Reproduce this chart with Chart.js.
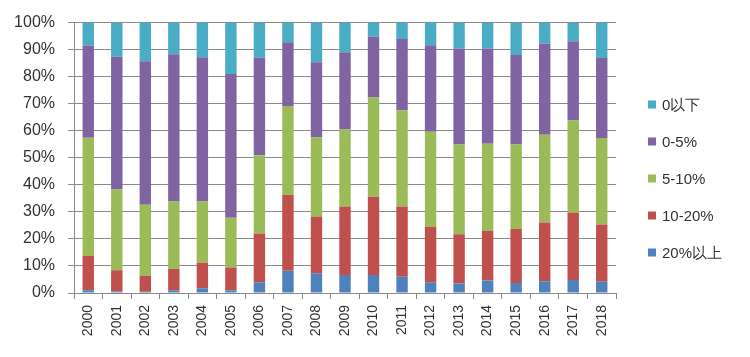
<!DOCTYPE html>
<html>
<head>
<meta charset="utf-8">
<script src="https://cdn.jsdelivr.net/npm/chart.js@4/dist/chart.umd.min.js"></script>
<style>
  html, body { margin: 0; padding: 0; background: #fff; }
  #wrap { width: 750px; height: 357px; }
</style>
</head>
<body>
<div id="wrap"><canvas id="c" width="750" height="357"></canvas></div>
<script>
const years = ["2000","2001","2002","2003","2004","2005","2006","2007","2008","2009","2010","2011","2012","2013","2014","2015","2016","2017","2018"];
const above20 = [1.0, 0.6, 0.5, 1.0, 1.8, 1.0, 4.0, 8.2, 7.3, 6.7, 6.7, 6.0, 4.0, 3.5, 4.6, 3.7, 4.3, 4.8, 4.2];
const r10to20 = [12.8, 7.8, 5.9, 8.0, 9.4, 8.4, 18.0, 28.0, 21.0, 25.3, 28.9, 26.0, 20.4, 18.2, 18.3, 20.0, 21.8, 25.0, 21.1];
const r5to10 = [43.6, 29.9, 26.2, 24.8, 22.6, 18.4, 28.9, 33.0, 29.3, 28.5, 36.7, 35.6, 35.2, 33.2, 32.3, 31.2, 32.4, 34.0, 32.0];
const r0to5 = [34.1, 49.1, 53.1, 54.5, 53.4, 53.2, 36.1, 23.5, 27.7, 28.5, 22.5, 26.3, 32.0, 35.4, 35.1, 33.1, 33.8, 29.3, 29.6];
const below0 = [8.5, 12.6, 14.3, 11.7, 12.8, 19.0, 13.0, 7.3, 14.7, 11.0, 5.2, 6.1, 8.4, 9.7, 9.7, 12.0, 7.7, 6.9, 13.1];
const seriesNames = ["20%以上", "10-20%", "5-10%", "0-5%", "0以下"];
const seriesColors = ["#4F81BD", "#C0504D", "#9BBB59", "#8064A2", "#4BACC6"];
const yTicks = [0,10,20,30,40,50,60,70,80,90,100];

const FONT = "'Liberation Sans', Arial, sans-serif";
const GRID = "#8a8a8a";
const TEXT = "#333333";

const seriesData = [above20, r10to20, r5to10, r0to5, below0];

const legendPlugin = {
  id: 'sideLegend',
  afterDraw(chart) {
    const ctx = chart.ctx;
    const area = chart.chartArea;
    const cy = chart.height / 2;
    const spacing = 37;
    const n = seriesNames.length;
    ctx.save();
    ctx.font = "15px " + FONT;
    ctx.textBaseline = 'middle';
    ctx.textAlign = 'left';
    for (let k = 0; k < n; k++) {
      const idx = n - 1 - k;
      const y = cy + (k - (n - 1) / 2) * spacing;
      ctx.fillStyle = seriesColors[idx];
      ctx.fillRect(area.right + 32, y - 4, 8, 8);
      ctx.fillStyle = TEXT;
      ctx.fillText(seriesNames[idx], area.right + 46, y + 1);
    }
    ctx.restore();
  }
};

new Chart(document.getElementById('c'), {
  type: 'bar',
  data: {
    labels: years,
    datasets: seriesData.map((d, i) => ({
      label: seriesNames[i],
      data: d,
      backgroundColor: seriesColors[i],
      borderWidth: 0,
      categoryPercentage: 1.0,
      barPercentage: 0.4
    }))
  },
  options: {
    responsive: false,
    animation: false,
    devicePixelRatio: 1,
    layout: { padding: { top: 18, right: 134, left: 0, bottom: 0 } },
    plugins: {
      legend: { display: false },
      tooltip: { enabled: false }
    },
    scales: {
      x: {
        stacked: true,
        afterFit: s => { s.height = 64; },
        grid: {
          offset: true,
          drawOnChartArea: false,
          drawTicks: true,
          tickLength: 6,
          color: GRID
        },
        border: { color: GRID, width: 1 },
        ticks: {
          autoSkip: false,
          minRotation: 90,
          maxRotation: 90,
          padding: 6,
          color: TEXT,
          font: { family: FONT, size: 14 }
        }
      },
      y: {
        stacked: true,
        min: 0,
        max: 100,
        afterFit: s => { s.width = 74; },
        afterBuildTicks: s => { s.ticks = yTicks.map(v => ({ value: v })); },
        grid: {
          color: GRID,
          tickLength: 6,
          lineWidth: 1
        },
        border: { color: GRID, width: 1 },
        ticks: {
          padding: 13,
          color: TEXT,
          font: { family: FONT, size: 16 },
          callback: v => v + '%'
        }
      }
    }
  },
  plugins: [legendPlugin]
});
</script>
</body>
</html>
